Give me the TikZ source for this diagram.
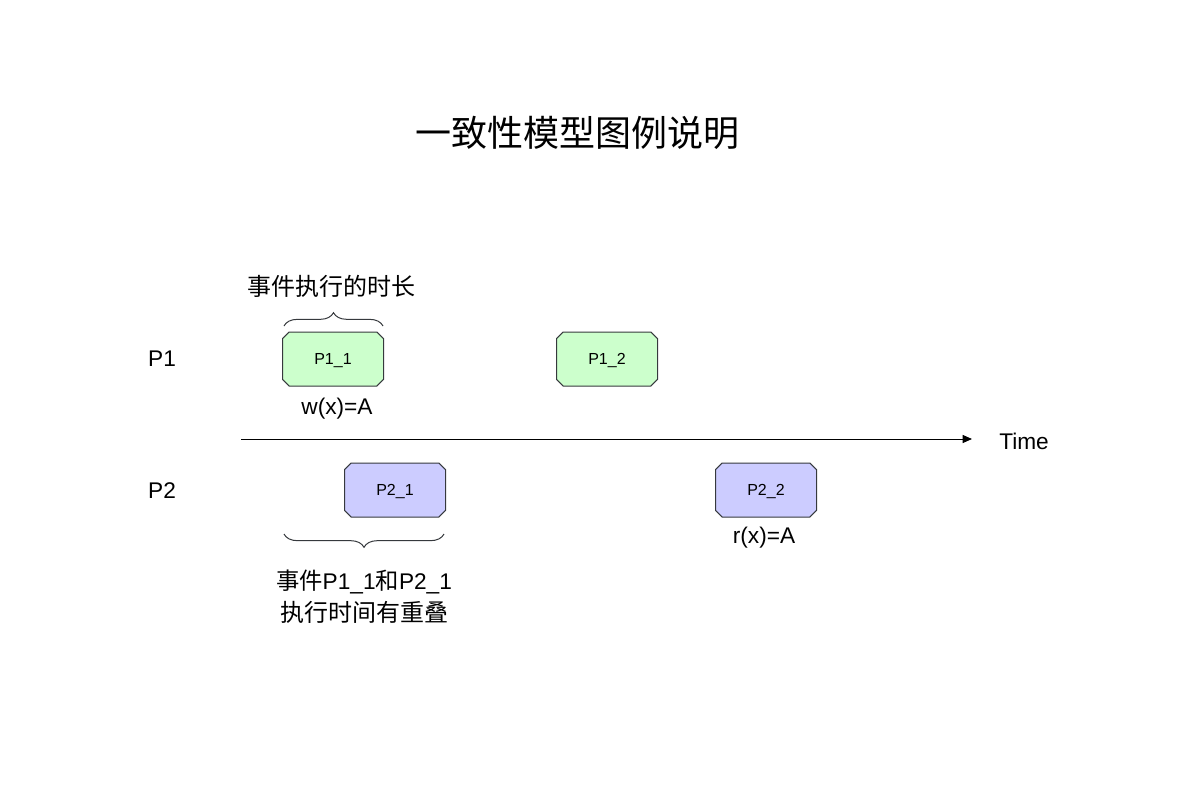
\documentclass[tikz,border=0pt]{standalone}
\usepackage{fontspec}
\setmainfont{Liberation Sans}
\newfontfamily\cjk{Noto Sans CJK SC}
\usetikzlibrary{positioning,shapes.misc,decorations.pathreplacing,arrows.meta}
\definecolor{evgreen}{HTML}{CCFFCC}
\definecolor{evblue}{HTML}{CCCCFF}
\definecolor{evline}{HTML}{36393D}

\begin{document}
\begin{tikzpicture}[x=0.75pt,y=-0.75pt,
        event/.style={chamfered rectangle,chamfered rectangle xsep=2.5pt,chamfered rectangle ysep=2.5pt,draw=evline,line width=0.75pt,minimum width=75.75pt,minimum height=40.5pt,inner sep=0pt,text depth=0pt,font=\fontsize{12}{14}\selectfont},
        lbl/.style={inner sep=0pt,font=\fontsize{17}{20}\selectfont},
        curly/.style={draw=evline,line width=0.75pt,decorate,decoration={brace,amplitude=10pt}}]
        \useasboundingbox (0,0) rectangle (1200,800);

        \node[inner sep=0pt,font=\fontsize{27}{32}\selectfont\cjk] (title) at (577,133) {一致性模型图例说明};

        \node[lbl] (p1) at (162,359) {P1};
        \node[lbl] (p2) at (162,491) {P2};

        \node[event,fill=evgreen] (p11) at (333,359) {P1\_1};
        \node[event,fill=evgreen] (p12) at (607,359) {P1\_2};
        \node[event,fill=evblue] (p21) at (395,490) {P2\_1};
        \node[event,fill=evblue] (p22) at (766,490) {P2\_2};

        \node[lbl] (w1) at (337,409) {w(x)=A};
        \node[lbl] (r2) at (764,538) {r(x)=A};

        % time axis
        \coordinate (t0) at (241,439);
        \coordinate (t1) at (972,439);
        \draw[line width=0.75pt,-{Stealth[length=7pt,width=6pt,inset=0pt]}] (t0) -- (t1);
        \node[lbl,anchor=west] (time) at (999,441) {Time};

        % braces
        \coordinate (a0) at (284,326);
        \coordinate (a1) at (383,326);
        \draw[curly] (a0) -- (a1);
        \node[lbl,font=\fontsize{18}{20}\selectfont\cjk] (dur) at (331,286) {事件执行的时长};

        \coordinate (b0) at (444,534);
        \coordinate (b1) at (284,534);
        \draw[curly] (b0) -- (b1);
        \node[lbl,align=center,font=\fontsize{17}{24}\selectfont] (ovl) at (364,597)
            {{\cjk\fontsize{17.5}{24}\selectfont 事件}P1\_1{\cjk\fontsize{17.5}{24}\selectfont 和}P2\_1\\{\cjk\fontsize{18}{24}\selectfont 执行时间有重叠}};
    \end{tikzpicture}
\end{document}
